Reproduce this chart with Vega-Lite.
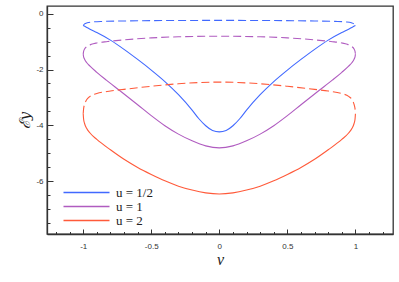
{
  "$schema": "https://vega.github.io/schema/vega-lite/v6.json",
  "width": 346,
  "height": 228,
  "autosize": "none",
  "padding": {"left": 47, "top": 6, "right": 6, "bottom": 48},
  "background": "white",
  "config": {
    "view": {"stroke": "#333333", "strokeWidth": 1.3},
    "axis": {"grid": false, "domainColor": "#333333", "domainWidth": 1.3, "tickColor": "#333333", "tickWidth": 1, "labelFont": "Liberation Sans", "labelFontSize": 8, "labelColor": "#333333"}
  },
  "data": {"values": [
    {"u":"u = 1/2","p":"lo","v":-1,"e":-0.43},{"u":"u = 1/2","p":"lo","v":-0.98,"e":-0.48},{"u":"u = 1/2","p":"lo","v":-0.95,"e":-0.56},{"u":"u = 1/2","p":"lo","v":-0.9,"e":-0.68},{"u":"u = 1/2","p":"lo","v":-0.8,"e":-0.95},{"u":"u = 1/2","p":"lo","v":-0.7,"e":-1.28},{"u":"u = 1/2","p":"lo","v":-0.6,"e":-1.64},{"u":"u = 1/2","p":"lo","v":-0.5,"e":-2.02},{"u":"u = 1/2","p":"lo","v":-0.4,"e":-2.43},{"u":"u = 1/2","p":"lo","v":-0.3,"e":-2.9},{"u":"u = 1/2","p":"lo","v":-0.2,"e":-3.45},{"u":"u = 1/2","p":"lo","v":-0.15,"e":-3.76},{"u":"u = 1/2","p":"lo","v":-0.1,"e":-4.01},{"u":"u = 1/2","p":"lo","v":-0.05,"e":-4.18},{"u":"u = 1/2","p":"lo","v":0,"e":-4.23},
    {"u":"u = 1/2","p":"lo","v":1,"e":-0.43},{"u":"u = 1/2","p":"lo","v":0.98,"e":-0.48},{"u":"u = 1/2","p":"lo","v":0.95,"e":-0.56},{"u":"u = 1/2","p":"lo","v":0.9,"e":-0.68},{"u":"u = 1/2","p":"lo","v":0.8,"e":-0.95},{"u":"u = 1/2","p":"lo","v":0.7,"e":-1.28},{"u":"u = 1/2","p":"lo","v":0.6,"e":-1.64},{"u":"u = 1/2","p":"lo","v":0.5,"e":-2.02},{"u":"u = 1/2","p":"lo","v":0.4,"e":-2.43},{"u":"u = 1/2","p":"lo","v":0.3,"e":-2.9},{"u":"u = 1/2","p":"lo","v":0.2,"e":-3.45},{"u":"u = 1/2","p":"lo","v":0.15,"e":-3.76},{"u":"u = 1/2","p":"lo","v":0.1,"e":-4.01},{"u":"u = 1/2","p":"lo","v":0.05,"e":-4.18},
    {"u":"u = 1/2","p":"up","v":-1,"e":-0.43},{"u":"u = 1/2","p":"up","v":-0.99,"e":-0.37},{"u":"u = 1/2","p":"up","v":-0.97,"e":-0.33},{"u":"u = 1/2","p":"up","v":-0.93,"e":-0.30},{"u":"u = 1/2","p":"up","v":-0.85,"e":-0.28},{"u":"u = 1/2","p":"up","v":-0.7,"e":-0.265},{"u":"u = 1/2","p":"up","v":-0.4,"e":-0.25},{"u":"u = 1/2","p":"up","v":0,"e":-0.245},
    {"u":"u = 1/2","p":"up","v":1,"e":-0.43},{"u":"u = 1/2","p":"up","v":0.99,"e":-0.37},{"u":"u = 1/2","p":"up","v":0.97,"e":-0.33},{"u":"u = 1/2","p":"up","v":0.93,"e":-0.30},{"u":"u = 1/2","p":"up","v":0.85,"e":-0.28},{"u":"u = 1/2","p":"up","v":0.7,"e":-0.265},{"u":"u = 1/2","p":"up","v":0.4,"e":-0.25},
    {"u":"u = 1","p":"lo","v":-1,"e":-1.45},{"u":"u = 1","p":"lo","v":-0.997,"e":-1.55},{"u":"u = 1","p":"lo","v":-0.99,"e":-1.63},{"u":"u = 1","p":"lo","v":-0.975,"e":-1.75},{"u":"u = 1","p":"lo","v":-0.95,"e":-1.88},{"u":"u = 1","p":"lo","v":-0.9,"e":-2.1},{"u":"u = 1","p":"lo","v":-0.83,"e":-2.38},{"u":"u = 1","p":"lo","v":-0.73,"e":-2.76},{"u":"u = 1","p":"lo","v":-0.6,"e":-3.26},{"u":"u = 1","p":"lo","v":-0.5,"e":-3.65},{"u":"u = 1","p":"lo","v":-0.4,"e":-4.01},{"u":"u = 1","p":"lo","v":-0.3,"e":-4.31},{"u":"u = 1","p":"lo","v":-0.2,"e":-4.55},{"u":"u = 1","p":"lo","v":-0.1,"e":-4.73},{"u":"u = 1","p":"lo","v":0,"e":-4.8},
    {"u":"u = 1","p":"lo","v":1,"e":-1.45},{"u":"u = 1","p":"lo","v":0.997,"e":-1.55},{"u":"u = 1","p":"lo","v":0.99,"e":-1.63},{"u":"u = 1","p":"lo","v":0.975,"e":-1.75},{"u":"u = 1","p":"lo","v":0.95,"e":-1.88},{"u":"u = 1","p":"lo","v":0.9,"e":-2.1},{"u":"u = 1","p":"lo","v":0.83,"e":-2.38},{"u":"u = 1","p":"lo","v":0.73,"e":-2.76},{"u":"u = 1","p":"lo","v":0.6,"e":-3.26},{"u":"u = 1","p":"lo","v":0.5,"e":-3.65},{"u":"u = 1","p":"lo","v":0.4,"e":-4.01},{"u":"u = 1","p":"lo","v":0.3,"e":-4.31},{"u":"u = 1","p":"lo","v":0.2,"e":-4.55},{"u":"u = 1","p":"lo","v":0.1,"e":-4.73},
    {"u":"u = 1","p":"up","v":-1,"e":-1.45},{"u":"u = 1","p":"up","v":-0.997,"e":-1.35},{"u":"u = 1","p":"up","v":-0.99,"e":-1.27},{"u":"u = 1","p":"up","v":-0.97,"e":-1.17},{"u":"u = 1","p":"up","v":-0.94,"e":-1.1},{"u":"u = 1","p":"up","v":-0.9,"e":-1.05},{"u":"u = 1","p":"up","v":-0.82,"e":-1.0},{"u":"u = 1","p":"up","v":-0.7,"e":-0.94},{"u":"u = 1","p":"up","v":-0.5,"e":-0.87},{"u":"u = 1","p":"up","v":-0.3,"e":-0.83},{"u":"u = 1","p":"up","v":0,"e":-0.81},
    {"u":"u = 1","p":"up","v":1,"e":-1.45},{"u":"u = 1","p":"up","v":0.997,"e":-1.35},{"u":"u = 1","p":"up","v":0.99,"e":-1.27},{"u":"u = 1","p":"up","v":0.97,"e":-1.17},{"u":"u = 1","p":"up","v":0.94,"e":-1.1},{"u":"u = 1","p":"up","v":0.9,"e":-1.05},{"u":"u = 1","p":"up","v":0.82,"e":-1.0},{"u":"u = 1","p":"up","v":0.7,"e":-0.94},{"u":"u = 1","p":"up","v":0.5,"e":-0.87},{"u":"u = 1","p":"up","v":0.3,"e":-0.83},
    {"u":"u = 2","p":"lo","v":-1,"e":-3.58},{"u":"u = 2","p":"lo","v":-0.997,"e":-3.78},{"u":"u = 2","p":"lo","v":-0.99,"e":-3.93},{"u":"u = 2","p":"lo","v":-0.975,"e":-4.1},{"u":"u = 2","p":"lo","v":-0.95,"e":-4.27},{"u":"u = 2","p":"lo","v":-0.9,"e":-4.5},{"u":"u = 2","p":"lo","v":-0.8,"e":-4.87},{"u":"u = 2","p":"lo","v":-0.7,"e":-5.21},{"u":"u = 2","p":"lo","v":-0.6,"e":-5.5},{"u":"u = 2","p":"lo","v":-0.5,"e":-5.75},{"u":"u = 2","p":"lo","v":-0.4,"e":-5.98},{"u":"u = 2","p":"lo","v":-0.3,"e":-6.17},{"u":"u = 2","p":"lo","v":-0.2,"e":-6.31},{"u":"u = 2","p":"lo","v":-0.1,"e":-6.41},{"u":"u = 2","p":"lo","v":0,"e":-6.45},
    {"u":"u = 2","p":"lo","v":1,"e":-3.58},{"u":"u = 2","p":"lo","v":0.997,"e":-3.78},{"u":"u = 2","p":"lo","v":0.99,"e":-3.93},{"u":"u = 2","p":"lo","v":0.975,"e":-4.1},{"u":"u = 2","p":"lo","v":0.95,"e":-4.27},{"u":"u = 2","p":"lo","v":0.9,"e":-4.5},{"u":"u = 2","p":"lo","v":0.8,"e":-4.87},{"u":"u = 2","p":"lo","v":0.7,"e":-5.21},{"u":"u = 2","p":"lo","v":0.6,"e":-5.5},{"u":"u = 2","p":"lo","v":0.5,"e":-5.75},{"u":"u = 2","p":"lo","v":0.4,"e":-5.98},{"u":"u = 2","p":"lo","v":0.3,"e":-6.17},{"u":"u = 2","p":"lo","v":0.2,"e":-6.31},{"u":"u = 2","p":"lo","v":0.1,"e":-6.41},
    {"u":"u = 2","p":"up","v":-1,"e":-3.58},{"u":"u = 2","p":"up","v":-0.997,"e":-3.4},{"u":"u = 2","p":"up","v":-0.99,"e":-3.25},{"u":"u = 2","p":"up","v":-0.975,"e":-3.08},{"u":"u = 2","p":"up","v":-0.95,"e":-2.96},{"u":"u = 2","p":"up","v":-0.9,"e":-2.86},{"u":"u = 2","p":"up","v":-0.8,"e":-2.77},{"u":"u = 2","p":"up","v":-0.7,"e":-2.71},{"u":"u = 2","p":"up","v":-0.5,"e":-2.6},{"u":"u = 2","p":"up","v":-0.3,"e":-2.51},{"u":"u = 2","p":"up","v":0,"e":-2.45},
    {"u":"u = 2","p":"up","v":1,"e":-3.58},{"u":"u = 2","p":"up","v":0.997,"e":-3.4},{"u":"u = 2","p":"up","v":0.99,"e":-3.25},{"u":"u = 2","p":"up","v":0.975,"e":-3.08},{"u":"u = 2","p":"up","v":0.95,"e":-2.96},{"u":"u = 2","p":"up","v":0.9,"e":-2.86},{"u":"u = 2","p":"up","v":0.8,"e":-2.77},{"u":"u = 2","p":"up","v":0.7,"e":-2.71},{"u":"u = 2","p":"up","v":0.5,"e":-2.6},{"u":"u = 2","p":"up","v":0.3,"e":-2.51}
  ]},
  "encoding": {
    "x": {"field": "v", "type": "quantitative",
      "scale": {"domain": [-1.266, 1.276], "nice": false, "zero": false},
      "axis": {
        "title": "v", "titleFont": "Liberation Serif", "titleFontStyle": "italic", "titleFontWeight": "normal", "titleFontSize": 16, "titleColor": "#222222", "titlePadding": -1,
        "values": [-1.2,-1.1,-1,-0.9,-0.8,-0.7,-0.6,-0.5,-0.4,-0.3,-0.2,-0.1,0,0.1,0.2,0.3,0.4,0.5,0.6,0.7,0.8,0.9,1,1.1,1.2],
        "labelExpr": "datum.value % 0.5 === 0 ? '' + datum.value : ''",
        "tickSize": {"condition": {"test": "datum.value % 0.5 === 0", "value": -5}, "value": -2.5},
        "labelPadding": 13, "labelFlush": false, "labelOverlap": false
      }
    },
    "y": {"field": "e", "type": "quantitative",
      "scale": {"domain": [-7.88, 0.27], "nice": false, "zero": false},
      "axis": {
        "title": "ℰy", "titleFont": "DejaVu Serif", "titleFontStyle": "italic", "titleFontWeight": "normal", "titleFontSize": 15, "titleColor": "#222222", "titlePadding": 3,
        "values": [-7.5,-7,-6.5,-6,-5.5,-5,-4.5,-4,-3.5,-3,-2.5,-2,-1.5,-1,-0.5,0],
        "labelExpr": "datum.value % 2 === 0 ? '' + datum.value : ''",
        "tickSize": {"condition": {"test": "datum.value % 2 === 0", "value": -6}, "value": -3},
        "labelPadding": 10, "labelOverlap": false
      }
    }
  },
  "layer": [
    {
      "transform": [{"filter": "datum.p === 'lo'"}],
      "mark": {"type": "line", "strokeWidth": 1.1, "interpolate": "monotone"},
      "encoding": {
        "color": {"field": "u", "type": "nominal",
          "scale": {"domain": ["u = 1/2", "u = 1", "u = 2"], "range": ["#4169ff", "#b05cc0", "#ff5a3a"]},
          "legend": {"orient": "none", "legendX": 33, "legendY": 180, "title": null, "padding": 0,
            "symbolType": "M-4.6,0H4.6", "symbolSize": 100, "symbolStrokeWidth": 1.3, "symbolFillColor": "transparent",
            "labelFont": "Liberation Serif", "labelFontSize": 13, "labelColor": "#222222", "labelOffset": 23, "rowPadding": -2}
        }
      }
    },
    {
      "transform": [{"filter": "datum.p === 'up'"}],
      "mark": {"type": "line", "strokeWidth": 1.1, "interpolate": "monotone", "strokeDash": [8, 4]},
      "encoding": {
        "color": {"field": "u", "type": "nominal", "legend": null}
      }
    }
  ]
}
